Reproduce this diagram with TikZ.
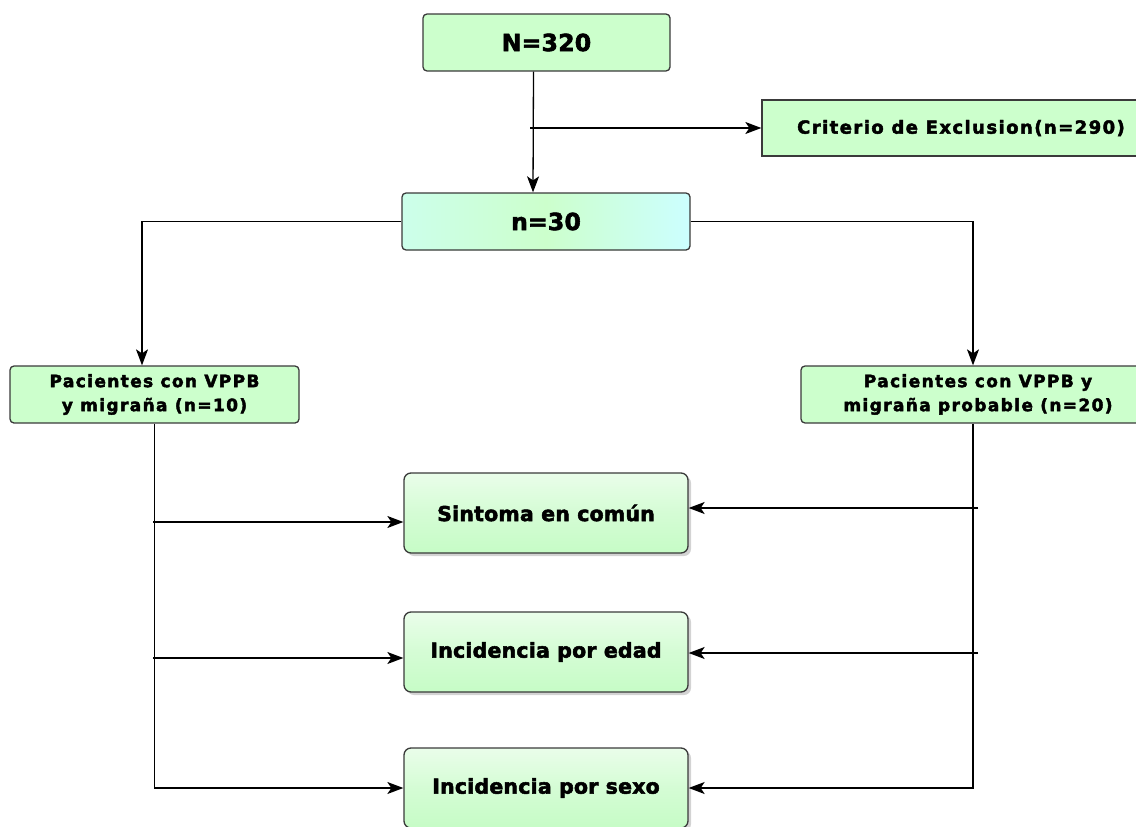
\documentclass[tikz,border=0pt]{standalone}
\usepackage{fontspec}
\setmainfont{DejaVu Sans}
\newfontfamily\heavyA[FakeBold=2.5,LetterSpace=1]{DejaVu Sans Bold}
\newfontfamily\heavyB[FakeBold=2.5,LetterSpace=8]{DejaVu Sans Bold}
\usetikzlibrary{arrows.meta,shadows}
\definecolor{boxgreen}{HTML}{CCFFCC}
\definecolor{lightgreen}{HTML}{EAFDEA}
\definecolor{midgreen}{HTML}{C6FCC6}
\definecolor{cyanish}{HTML}{CCFFFF}
\definecolor{edge}{HTML}{3A3A3A}
\tikzset{
  box/.style={draw=edge, line width=1.3pt, fill=boxgreen, rounded corners=4pt, align=center, inner sep=0pt},
  sqbox/.style={draw=edge, line width=1.3pt, fill=boxgreen, align=center, inner sep=0pt},
  glossbox/.style={draw=edge, line width=1.3pt, rounded corners=7pt, top color=lightgreen, bottom color=midgreen, middle color=midgreen!60!lightgreen, align=center, inner sep=0pt, drop shadow={shadow xshift=3pt, shadow yshift=-3pt, opacity=0.35, fill=gray}},
  arr/.style={draw=black, line width=1.3pt, -{Stealth[length=16pt,width=12pt,inset=4pt]}},
  big/.style={font=\heavyA\fontsize{23.5}{27}\selectfont},
  mid/.style={font=\heavyA\fontsize{20.5}{24}\selectfont},
  small/.style={font=\heavyB\fontsize{17}{24}\selectfont}
}
\begin{document}
\begin{tikzpicture}[x=1pt,y=-1pt]
\useasboundingbox (0,0) rectangle (1136,827);
\begin{scope}
\clip (0,0) rectangle (1136,827);
\node[box, big, minimum width=247pt, minimum height=57pt] (n320) at (546.5,42.5) {N=320};
\node[sqbox, font=\heavyB\fontsize{18}{22}\selectfont, minimum width=398pt, minimum height=56pt] (crit) at (961,128) {Criterio de Exclusion(n=290)};
\node[box, big, minimum width=288pt, minimum height=57pt, left color=cyanish!60!boxgreen, right color=cyanish, middle color=boxgreen] (n30) at (546,221.5) {n=30};
\node[box, small, minimum width=289pt, minimum height=57pt] (left) at (154.5,394.5) {Pacientes con VPPB\\y migraña (n=10)};
\node[box, small, minimum width=354pt, minimum height=57pt] (right) at (978,394.5) {Pacientes con VPPB y\\migraña probable (n=20)};
\node[glossbox, mid, minimum width=284pt, minimum height=80pt] (sint) at (546,513) {Sintoma en común};
\node[glossbox, mid, minimum width=284pt, minimum height=80pt] (edad) at (546,652) {Incidencia por edad};
\node[glossbox, mid, minimum width=284pt, minimum height=80pt] (sexo) at (546,788) {Incidencia por sexo};

\draw[arr] ([xshift=-13pt]n320.south) -- ([xshift=-13pt]n30.north);
\coordinate (ex) at (530,128);
\draw[arr] (ex) -- (crit.west);
\draw[arr] (n30.west) -| ([xshift=-12.5pt]left.north);
\draw[arr] (n30.east) -| ([xshift=-5pt]right.north);
\draw[arr] (left.south) |- (sexo.west);
\coordinate (l1) at (153,522);
\coordinate (l2) at (153,658);
\draw[arr] (l1) -- (l1 -| sint.west);
\draw[arr] (l2) -- (l2 -| edad.west);
\draw[arr] ([xshift=-5pt]right.south) |- (sexo.east);
\coordinate (r1) at (978,508);
\coordinate (r2) at (978,653);
\draw[arr] (r1) -- (r1 -| sint.east);
\draw[arr] (r2) -- (r2 -| edad.east);
\end{scope}
\end{tikzpicture}
\end{document}
